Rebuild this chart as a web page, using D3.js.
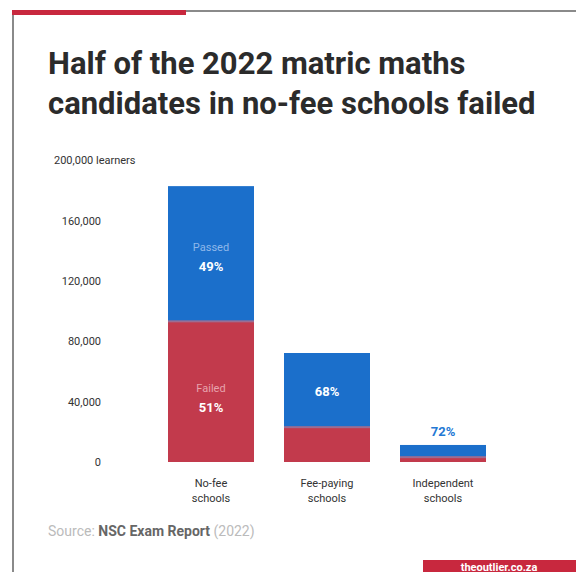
<!DOCTYPE html>
<html>
<head>
<meta charset="utf-8">
<script src="https://cdn.jsdelivr.net/npm/d3@7"></script>
<style>
  body { margin: 0; background: #fff; }
  svg { display: block; font-family: Roboto, "Noto Sans", sans-serif; }
</style>
</head>
<body>
<svg width="576" height="572"></svg>
<script>
// chart data
const schools = ["No-fee schools", "Fee-paying schools", "Independent schools"];
const failed = [93300, 23100, 3200];
const passed = [89700, 49200, 8100];
const passPct = [49, 68, 72];
const failPct = [51, 32, 28];
const yTicks = [0, 40000, 80000, 120000, 160000];

const blue = "#1b6fcb";
const red = "#c23a4c";

const svg = d3.select("svg");

// frame
svg.append("rect").attr("x", 12).attr("y", 10).attr("width", 564).attr("height", 2).attr("fill", "#8a8a8a");
svg.append("rect").attr("x", 12).attr("y", 10).attr("width", 2).attr("height", 562).attr("fill", "#8a8a8a");
svg.append("rect").attr("x", 12).attr("y", 10).attr("width", 174).attr("height", 5).attr("fill", "#c8283e");

// title
const title = svg.append("text")
  .attr("x", 48).attr("fill", "#2b2b2b")
  .style("font-size", "31px").style("font-weight", 700);
title.append("tspan").attr("x", 48).attr("y", 74).text("Half of the 2022 matric maths");
title.append("tspan").attr("x", 48).attr("y", 114).text("candidates in no-fee schools failed");

const y = d3.scaleLinear().domain([0, 200000]).range([462, 160.5]);
const x = d3.scaleBand().domain(schools).range([168, 486]).paddingInner(0.2586).paddingOuter(0);

// y axis labels
svg.append("g").selectAll("text").data(yTicks).join("text")
  .attr("x", 101).attr("y", d => y(d) + 4)
  .attr("text-anchor", "end")
  .attr("fill", "#333").style("font-size", "11px")
  .text(d => d3.format(",")(d));

svg.append("text").attr("x", 54).attr("y", 164)
  .attr("fill", "#333").style("font-size", "11px")
  .text("200,000 learners");

// bars
const rows = schools.map((s, i) => ({ s, f: failed[i], p: passed[i] }));

svg.append("g").selectAll("rect.fail").data(rows).join("rect")
  .attr("x", d => x(d.s)).attr("width", x.bandwidth())
  .attr("y", d => y(d.f)).attr("height", d => y(0) - y(d.f))
  .attr("fill", red);

svg.append("g").selectAll("rect.pass").data(rows).join("rect")
  .attr("x", d => x(d.s)).attr("width", x.bandwidth())
  .attr("y", d => y(d.f + d.p)).attr("height", d => y(d.f) - y(d.f + d.p))
  .attr("fill", blue);

// separator between segments
svg.append("g").selectAll("rect").data(rows).join("rect")
  .attr("x", d => x(d.s)).attr("width", x.bandwidth())
  .attr("y", d => y(d.f) - 1).attr("height", 2)
  .attr("fill", "#9c6d92");

// in-bar labels
const cx = s => x(s) + x.bandwidth() / 2;
const lab = svg.append("g").attr("text-anchor", "middle");

const nf = rows[0];
const nfPassMid = (y(nf.f) + y(nf.f + nf.p)) / 2;
lab.append("text").attr("x", cx(nf.s)).attr("y", nfPassMid - 3)
  .attr("fill", "#8fb8ea").style("font-size", "11px").text("Passed");
lab.append("text").attr("x", cx(nf.s)).attr("y", nfPassMid + 17)
  .attr("fill", "#fff").style("font-size", "13px").style("font-weight", 700).text(passPct[0] + "%");

const nfFailMid = (y(0) + y(nf.f)) / 2;
lab.append("text").attr("x", cx(nf.s)).attr("y", nfFailMid)
  .attr("fill", "#e7a3ad").style("font-size", "11px").text("Failed");
lab.append("text").attr("x", cx(nf.s)).attr("y", nfFailMid + 20)
  .attr("fill", "#fff").style("font-size", "13px").style("font-weight", 700).text(failPct[0] + "%");

const fp = rows[1];
lab.append("text").attr("x", cx(fp.s)).attr("y", (y(fp.f) + y(fp.f + fp.p)) / 2 + 6)
  .attr("fill", "#fff").style("font-size", "13px").style("font-weight", 700).text(passPct[1] + "%");

const ind = rows[2];
lab.append("text").attr("x", cx(ind.s)).attr("y", y(ind.f + ind.p) - 9)
  .attr("fill", "#2378d4").style("font-size", "13px").style("font-weight", 700).text(passPct[2] + "%");

// x labels
const xl = svg.append("g").attr("text-anchor", "middle");
schools.forEach(s => {
  const parts = s.split(" ");
  const t = xl.append("text").attr("fill", "#333").style("font-size", "11px");
  t.append("tspan").attr("x", cx(s)).attr("y", 487).text(parts[0]);
  t.append("tspan").attr("x", cx(s)).attr("y", 502).text(parts[1]);
});

// source
const src = svg.append("text").attr("x", 48).attr("y", 536).style("font-size", "14px");
src.append("tspan").attr("fill", "#bbb").text("Source: ");
src.append("tspan").attr("fill", "#666").style("font-weight", 700).text("NSC Exam Report");
src.append("tspan").attr("fill", "#bbb").text(" (2022)");

// brand tag
svg.append("rect").attr("x", 423).attr("y", 560).attr("width", 153).attr("height", 14).attr("fill", "#c8283e");
svg.append("text").attr("x", 499).attr("y", 570.5).attr("fill", "#fff")
  .attr("text-anchor", "middle")
  .style("font-size", "11px").style("font-weight", 700)
  .text("theoutlier.co.za");
</script>
</body>
</html>
